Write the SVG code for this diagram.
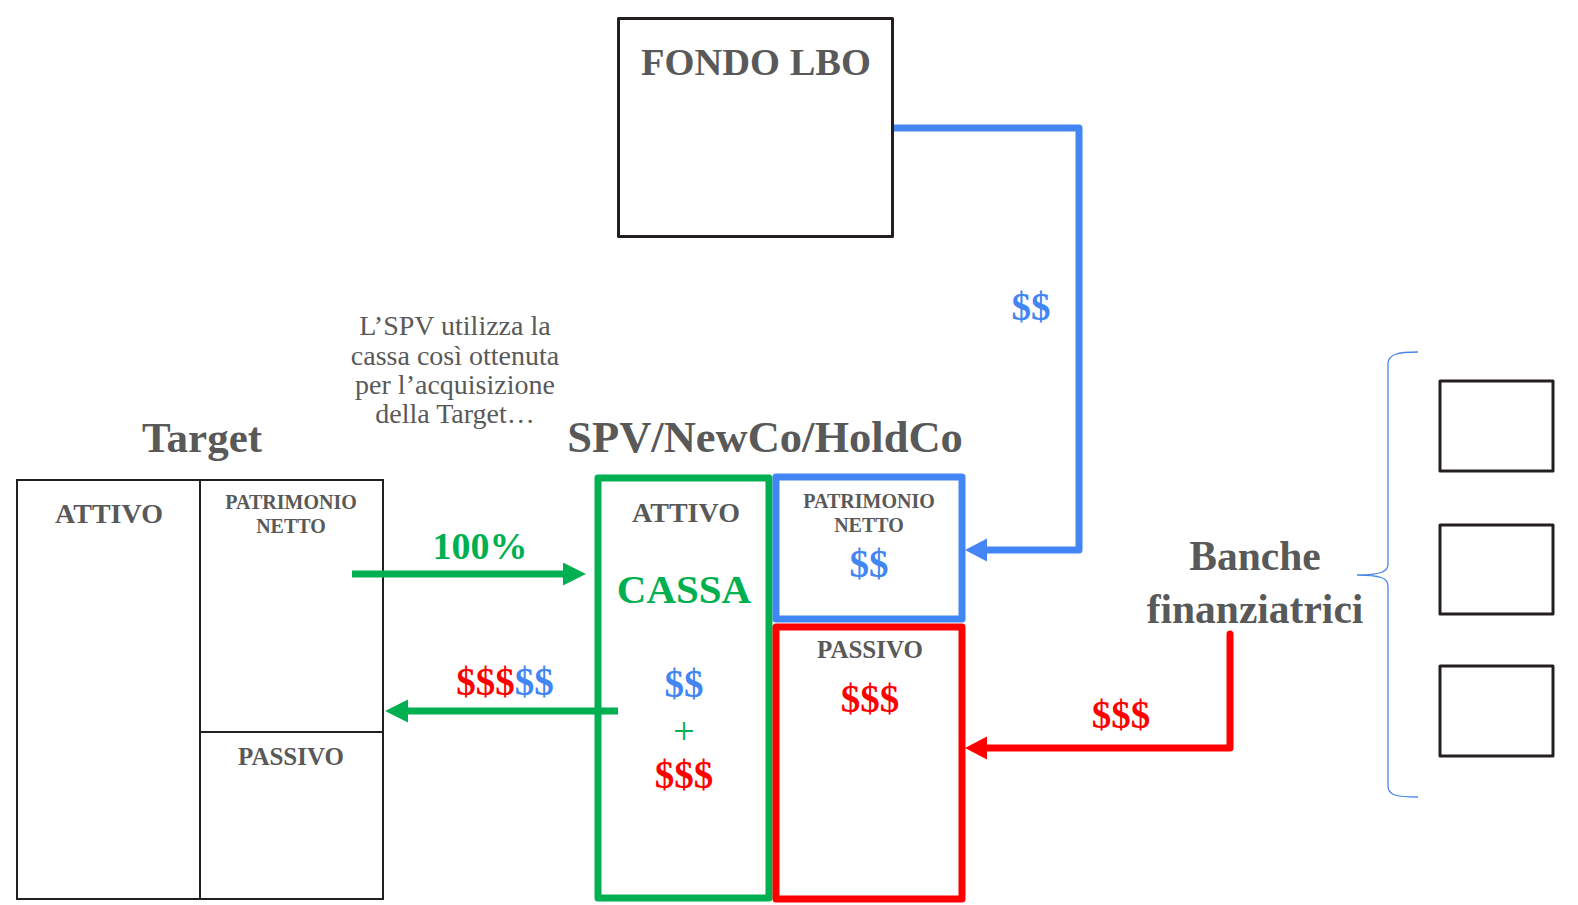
<svg xmlns="http://www.w3.org/2000/svg" width="1578" height="905" viewBox="0 0 1578 905">
<defs>
<style>
.t{font-family:"Liberation Serif","Times New Roman",serif;fill:#595959;text-anchor:middle;font-weight:bold}
.r{font-weight:normal}
.g{fill:#00b050}
.b{fill:#4285f4}
.rd{fill:#ff0000}
.box{fill:#fff;stroke:#231f20;stroke-width:3;stroke-linejoin:round}
.thin{fill:none;stroke:#231f20;stroke-width:2}
.cg{fill:none;stroke:#00b050;stroke-width:7;stroke-linejoin:round}
.cb{fill:none;stroke:#4285f4;stroke-width:7;stroke-linejoin:round}
.cr{fill:none;stroke:#ff0000;stroke-width:7;stroke-linejoin:round}
</style>
<marker id="ag" markerUnits="userSpaceOnUse" markerWidth="23" markerHeight="24" refX="0" refY="11.5" orient="auto"><path d="M0,0 L23,11.5 L0,23 z" fill="#00b050"/></marker>
<marker id="ab" markerUnits="userSpaceOnUse" markerWidth="23" markerHeight="24" refX="0" refY="11.5" orient="auto"><path d="M0,0 L22,11.5 L0,23 z" fill="#4285f4"/></marker>
<marker id="ar" markerUnits="userSpaceOnUse" markerWidth="23" markerHeight="24" refX="0" refY="11.5" orient="auto"><path d="M0,0 L22,11.5 L0,23 z" fill="#ff0000"/></marker>
</defs>
<rect width="1578" height="905" fill="#fff"/>

<g id="fondo">
<rect class="box" x="618.5" y="18.5" width="274" height="218"/>
<text class="t" x="756" y="75" font-size="38.5">FONDO LBO</text>
</g>

<g id="note">
<text class="t r" font-size="28" x="455" y="335">L’SPV utilizza la</text>
<text class="t r" font-size="28" x="455" y="365">cassa così ottenuta</text>
<text class="t r" font-size="28" x="455" y="394">per l’acquisizione</text>
<text class="t r" font-size="28" x="455" y="423">della Target…</text>
</g>

<g id="target">
<text class="t" x="202" y="452" font-size="43">Target</text>
<rect class="thin" x="17" y="480" width="366" height="419" fill="#fff"/>
<path class="thin" d="M200,480 V899 M200,732 H383"/>
<text class="t" x="109" y="523" font-size="28">ATTIVO</text>
<text class="t" x="291" y="509" font-size="20">PATRIMONIO</text>
<text class="t" x="291" y="533" font-size="20">NETTO</text>
<text class="t" x="291" y="765" font-size="25">PASSIVO</text>
</g>

<g id="spv">
<text class="t" x="765" y="452" font-size="44.5">SPV/NewCo/HoldCo</text>
</g>

<g id="spv-attivo">
<rect class="cg" x="598" y="478" width="171" height="420"/>
<text class="t" x="686" y="522" font-size="28">ATTIVO</text>
<text class="t g" x="684" y="603" font-size="41">CASSA</text>
<text class="t b" x="684" y="697" font-size="39">$$</text>
<text class="t g r" x="684" y="744" font-size="38">+</text>
<text class="t rd" x="684" y="788" font-size="39">$$$</text>
</g>

<g id="spv-pn">
<rect class="cb" x="776" y="477" width="186" height="142"/>
<text class="t" x="869" y="508" font-size="20">PATRIMONIO</text>
<text class="t" x="869" y="532" font-size="20">NETTO</text>
<text class="t b" x="869" y="577" font-size="39">$$</text>
</g>

<g id="spv-passivo">
<rect class="cr" x="776" y="627" width="186" height="272"/>
<text class="t" x="870" y="658" font-size="25">PASSIVO</text>
<text class="t rd" x="870" y="712" font-size="39">$$$</text>
</g>

<g id="banche">
<text class="t" x="1255" y="570" font-size="41.5">Banche</text>
<text class="t" x="1255" y="623" font-size="41.5">finanziatrici</text>
<path d="M1418,352 C1398,352 1388,354 1388,364 V564 C1388,572 1380,575 1357,575 C1380,575 1388,578 1388,586 V786 C1388,796 1398,797 1418,797" fill="none" stroke="#4a86e8" stroke-width="1.3"/>
</g>

<g id="bank1"><rect class="box" x="1440" y="381" width="113" height="90"/></g>
<g id="bank2"><rect class="box" x="1440" y="525" width="113" height="89"/></g>
<g id="bank3"><rect class="box" x="1440" y="666" width="113" height="90"/></g>

<g id="connectors">
<path class="cb" d="M894,128 H1079 V550 H987" marker-end="url(#ab)"/>
<path class="cr" d="M1230,634 V748 H987" stroke-linecap="round" marker-end="url(#ar)"/>
<path class="cg" d="M352,574 H563" stroke-width="8" marker-end="url(#ag)"/>
<path class="cg" d="M618,711 H408" stroke-width="8" marker-end="url(#ag)"/>
<text class="t b" x="1031" y="320" font-size="39">$$</text>
<text class="t rd" x="1121" y="728" font-size="39">$$$</text>
<text class="t g" x="480" y="559" font-size="38">100%</text>
<text class="t" x="505" y="695" font-size="39"><tspan class="rd">$$$</tspan><tspan class="b">$$</tspan></text>
</g>
</svg>
